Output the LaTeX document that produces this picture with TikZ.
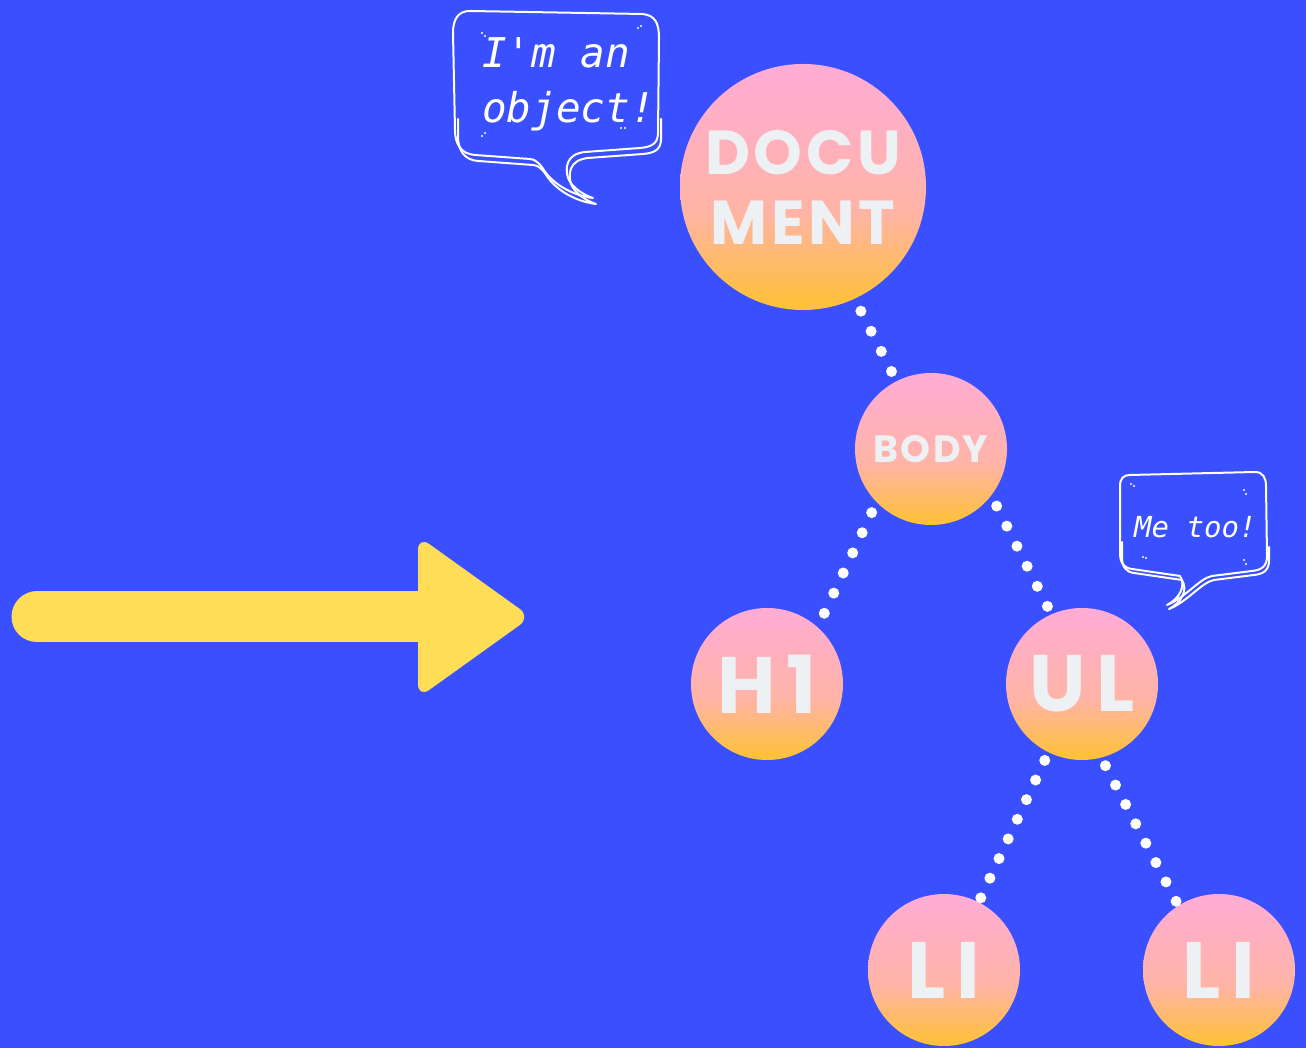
\documentclass[tikz,border=0pt]{standalone}
\usepackage{fontspec}
\usetikzlibrary{calc}

\newfontfamily\tagfont{Poppins}[LetterSpace=13]
\newfontfamily\widetagfont{Poppins}[LetterSpace=6]
\newfontfamily\sayfont{DejaVu Sans Mono}[Ligatures=TeXOff]

\definecolor{bgblue}{HTML}{3A50FF}
\definecolor{arrowyellow}{HTML}{FFDD57}
\definecolor{tagtext}{HTML}{EEF1F4}
\definecolor{balltop}{HTML}{FFACD6}
\definecolor{ballpink}{HTML}{FFB0BE}
\definecolor{ballmid}{HTML}{FFB4A6}
\definecolor{ballorange}{HTML}{FFBA6C}
\definecolor{ballbot}{HTML}{FFC233}

\pgfdeclareverticalshading{ballshade}{100bp}{color(0bp)=(ballbot); color(25bp)=(ballbot);
  color(35bp)=(ballorange); color(45bp)=(ballmid); color(60bp)=(ballpink);
  color(75bp)=(balltop); color(100bp)=(balltop)}

\begin{document}
\begin{tikzpicture}[x=1pt,y=1pt,
    tag node/.style={circle,inner sep=0pt,outer sep=11pt,minimum size=152pt,
      shade,shading=ballshade,text=tagtext,
      font=\tagfont\bfseries\fontsize{80}{80}\selectfont},
    say text/.style={white,inner sep=0pt,font=\sayfont\itshape\fontsize{41}{55}\selectfont},
    bubble/.style={white,line width=2pt,line join=round,line cap=round}]

  \useasboundingbox (0,0) rectangle (1306,1048);
  \fill[bgblue] (0,0) rectangle (1306,1048);

  % arrow
  \draw[arrowyellow,line width=51pt,line cap=round] (37,431) -- (420,431);
  \fill[arrowyellow,rounded corners=14pt] (418,431) -- (418,512) -- (531,431) -- (418,350) -- cycle;

  % tree
  \node[tag node,minimum size=246pt,outer sep=14pt,align=center,
        font=\widetagfont\bfseries\fontsize{62}{70}\selectfont] (doc) at (803,861) {DOCU\\MENT};
  \node[tag node,font=\widetagfont\bfseries\fontsize{38}{38}\selectfont] (body) at (931,599) {BODY};
  \node[tag node,outer sep=15pt] (h1) at (767,364) {H1};
  \node[tag node,outer sep=9pt] (ul) at (1082,364) {UL};
  \node[tag node,outer sep=5pt] (lione) at (944,78) {LI};
  \node[tag node,outer sep=5pt] (litwo) at (1219,78) {LI};

  \foreach \from/\fa/\to/\ta/\n in {doc/295/body/117/3, body/227/h1/51/5, body/319/ul/114/5,
                                  ul/244/lione/63/7, ul/286/litwo/122/7}
    \foreach \i in {0,...,\n}
      \fill[white] ($(\from.\fa)!\i/\n!(\to.\ta)$) circle (5.5);

  % speech bubbles
  \draw[bubble] (470,1037) -- (642,1034) .. controls (655,1033) and (659,1025) .. (659,1010)
    -- (658,915) .. controls (658,904) and (651,901) .. (640,900) -- (585,896)
    .. controls (566,894) and (565,880) .. (568,870) .. controls (572,860) and (584,853) .. (593,850)
    .. controls (575,852) and (556,862) .. (546,875) .. controls (541,882) and (538,888) .. (530,889)
    -- (475,893) .. controls (461,894) and (455,904) .. (455,918) -- (453,1015)
    .. controls (453,1030) and (459,1037) .. (470,1037);
  \draw[bubble,shift={(3,-6)}] (455,935) -- (455,918) .. controls (455,904) and (461,894) .. (475,893)
    -- (530,889) .. controls (538,888) and (541,882) .. (546,875) .. controls (556,862) and (575,852) .. (593,850)
    .. controls (584,853) and (572,860) .. (568,870) .. controls (565,880) and (566,894) .. (585,896)
    -- (640,900) .. controls (651,901) and (658,904) .. (658,915) -- (658,935);
  \node[say text,anchor=base west] (sayone) at (482,980) {I'm an};
  \node[say text,anchor=base west] (saytwo) at (482,925) {object!};

  \draw[bubble] (1130,573) -- (1255,576) .. controls (1263,576) and (1266,570) .. (1266,562)
    -- (1267,492) .. controls (1267,482) and (1262,478) .. (1252,477) -- (1212,472)
    .. controls (1200,470) and (1185,450) .. (1167,443) .. controls (1180,450) and (1186,462) .. (1180,472)
    -- (1132,479) .. controls (1124,480) and (1120,485) .. (1120,495) -- (1120,562)
    .. controls (1120,570) and (1124,573) .. (1130,573);
  \draw[bubble,shift={(2,-4)}] (1120,510) -- (1120,495) .. controls (1120,485) and (1124,480) .. (1132,479)
    -- (1180,472) .. controls (1186,462) and (1180,450) .. (1167,443)
    .. controls (1185,450) and (1200,470) .. (1212,472) -- (1252,477)
    .. controls (1262,478) and (1267,482) .. (1267,492) -- (1267,505);
  \node[say text,anchor=base west,font=\sayfont\itshape\fontsize{29}{29}\selectfont] (saythree) at (1134,510) {Me too!};

  % sparkles
  \foreach \x/\y in {482/1015, 485/1012, 638/1020, 641/1022, 482/912, 485/915, 621/920, 625/920,
                     1131/564, 1134/562, 1244/558, 1246/554, 1143/491, 1146/490, 1244/488, 1246/484}
    \fill[white] (\x,\y) circle (1.2);
\end{tikzpicture}
\end{document}
